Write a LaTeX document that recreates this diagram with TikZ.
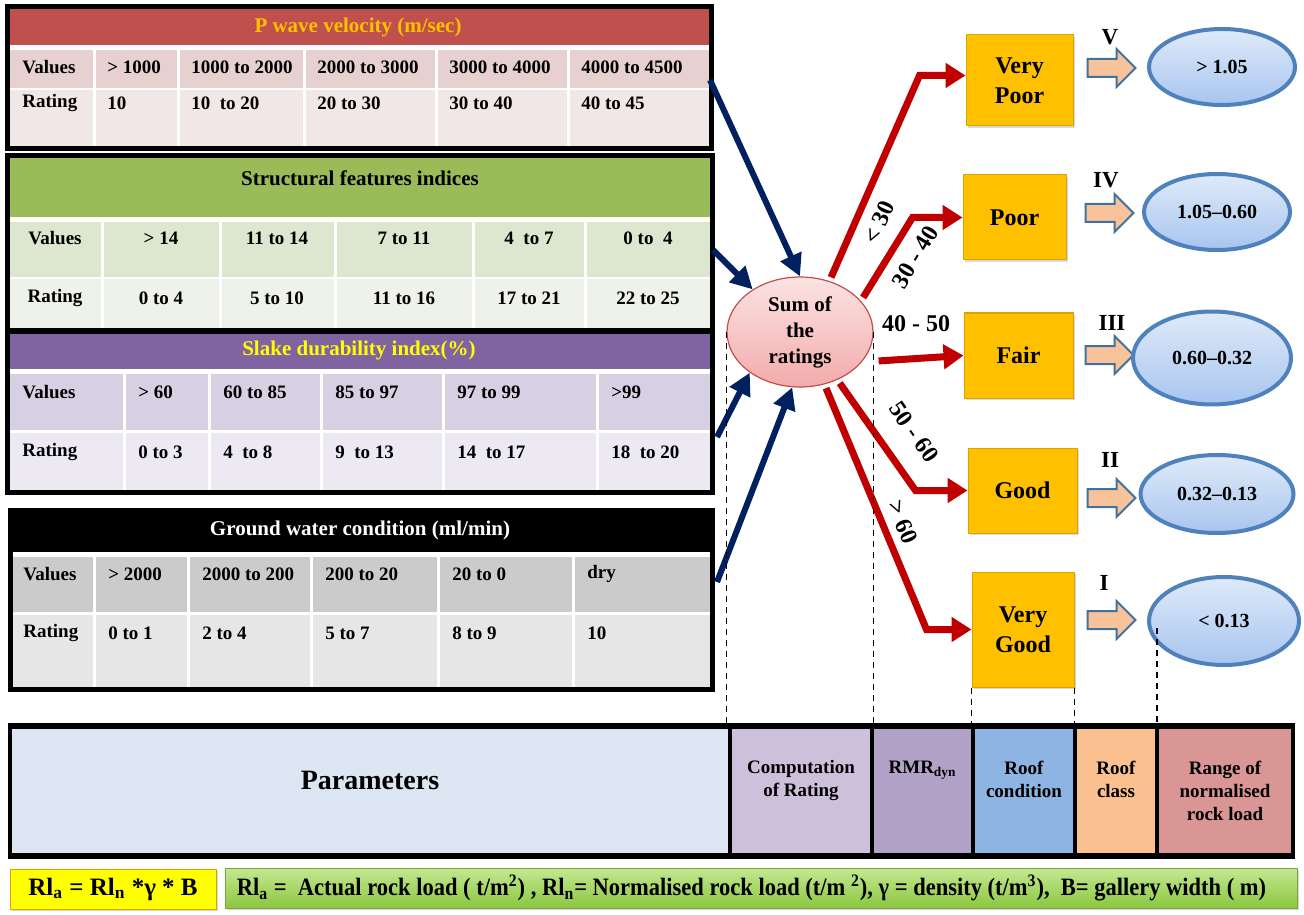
\documentclass[tikz,border=0pt]{standalone}
\usepackage{fontspec}
\setmainfont{Liberation Serif}
\newfontfamily\narrowfont{Liberation Serif}[FakeStretch=0.9]
\usepackage{tikz}
\usetikzlibrary{arrows.meta,shapes.geometric,shapes.arrows,shadows,positioning,calc}
\definecolor{pwhead}{HTML}{C0504D}
\definecolor{pwtext}{HTML}{FFC000}
\definecolor{pwval}{HTML}{E6D0D0}
\definecolor{pwrat}{HTML}{F2E7E7}
\definecolor{sfhead}{HTML}{9BBB59}
\definecolor{sfval}{HTML}{DDE6CE}
\definecolor{sfrat}{HTML}{EEF2E8}
\definecolor{sdhead}{HTML}{8064A2}
\definecolor{sdtext}{HTML}{FFFF00}
\definecolor{sdval}{HTML}{D6D0E2}
\definecolor{sdrat}{HTML}{ECE9F2}
\definecolor{gwval}{HTML}{CBCBCB}
\definecolor{gwrat}{HTML}{E6E6E6}
\definecolor{condfill}{HTML}{FFC000}
\definecolor{condline}{HTML}{D9A300}
\definecolor{loadtop}{HTML}{DFEAF9}
\definecolor{loadbot}{HTML}{A8C5EF}
\definecolor{loadline}{HTML}{4F81BD}
\definecolor{sumtop}{HTML}{FCE3E3}
\definecolor{sumbot}{HTML}{F3ABAB}
\definecolor{sumline}{HTML}{C0504D}
\definecolor{blkfill}{HTML}{F8C39A}
\definecolor{blkline}{HTML}{41719C}
\definecolor{routecol}{HTML}{C00000}
\definecolor{feedcol}{HTML}{002060}
\definecolor{parfill}{HTML}{DCE6F2}
\definecolor{compfill}{HTML}{CCC0DA}
\definecolor{rmrfill}{HTML}{B3A2C7}
\definecolor{condbar}{HTML}{8EB4E3}
\definecolor{clsfill}{HTML}{FAC090}
\definecolor{rngfill}{HTML}{D99694}
\definecolor{fyellow}{HTML}{FFFF00}
\definecolor{gtop}{HTML}{C4E892}
\definecolor{gbot}{HTML}{8CC63F}
\definecolor{gline}{HTML}{77A83A}
\newcommand{\tsize}{\bfseries\fontsize{9.5}{11}\selectfont}

\begin{document}
\begin{tikzpicture}[x=0.5pt,y=-0.5pt]
\tikzstyle{tcell}=[anchor=west,inner sep=0pt,font=\tsize]
\tikzstyle{tcellc}=[inner sep=0pt,font=\tsize]
\tikzstyle{ttitle}=[inner sep=0pt,font=\bfseries\fontsize{10.5}{12}\selectfont]
\tikzstyle{tborder}=[draw=black,line width=2.5pt]
\tikzstyle{colsep}=[white,line width=1.5pt]
\tikzstyle{feed}=[draw=feedcol,line width=3pt,-{Triangle[length=11pt,width=11pt]}]
\tikzstyle{route}=[draw=routecol,line width=3.5pt,shorten <=2pt,-{Triangle[length=10pt,width=12pt]}]
\tikzstyle{guide}=[black,line width=0.8pt,dash pattern=on 3pt off 2.5pt]
\tikzstyle{sumell}=[ellipse,draw=sumline,line width=0.6pt,top color=sumtop,bottom color=sumbot,minimum width=73pt,minimum height=55pt,inner sep=0pt,align=center,font=\bfseries\fontsize{10.5}{13}\selectfont]
\tikzstyle{cond}=[draw=condline,fill=condfill,line width=0.5pt,inner sep=0pt,align=center,font=\bfseries\fontsize{12}{15}\selectfont,drop shadow={opacity=0.3,shadow xshift=1.2pt,shadow yshift=-1.2pt}]
\tikzstyle{loadell}=[ellipse,draw=loadline,line width=2pt,top color=loadtop,bottom color=loadbot,inner sep=0pt,font=\bfseries\fontsize{10}{12}\selectfont]
\tikzstyle{blk}=[single arrow,draw=blkline,fill=blkfill,line width=1pt,minimum height=24pt,minimum width=18pt,single arrow head extend=5pt,inner sep=0pt,inner ysep=4pt]
\tikzstyle{roman}=[inner sep=0pt,font=\bfseries\fontsize{11.5}{13}\selectfont]
\tikzstyle{rlab}=[inner sep=0pt,font=\bfseries\fontsize{12}{14}\selectfont]
\tikzstyle{barcell}=[draw=black,line width=2pt,inner sep=0pt,minimum height=63.75pt]
\tikzstyle{barlabel}=[align=center,inner sep=0pt,anchor=north,font=\bfseries\fontsize{9.5}{11.5}\selectfont]
\tikzstyle{fbox}=[draw=gline,line width=0.5pt,minimum height=20pt,inner sep=0pt,drop shadow={opacity=0.3,shadow xshift=1pt,shadow yshift=-1pt}]
\useasboundingbox (0,0) rectangle (1304,914);

% P wave velocity
\fill[pwhead] (9,9) rectangle (709,45);
\fill[pwval] (9,50) rectangle (709,88);
\fill[pwrat] (9,90) rectangle (709,147);
\node[ttitle,text=pwtext] (pw) at (358,27) {P wave velocity (m/sec)};
\node[tcell] (pwv) at (22,67) {Values};
\node[tcell] (pwr) at (22,103) {Rating};
\foreach \x/\v/\r [count=\i] in {94/{> 1000}/10, 178/{1000 to 2000}/{10~ to 20}, 304/{2000 to 3000}/{20 to 30}, 436/{3000 to 4000}/{30 to 40}, 568/{4000 to 4500}/{40 to 45}}{
  \draw[colsep] (\x,48) -- (\x,147);
  \node[tcell] (pwv\i) at (\x+13,67) {\v};
  \node[tcell] (pwr\i) at (\x+13,103) {\r};
}
\draw[tborder] (7,7) rectangle (711,149);

% structural features
\fill[sfhead] (10,158) rectangle (710,217);
\fill[sfval] (10,222) rectangle (710,277);
\fill[sfrat] (10,279) rectangle (710,328);
\node[ttitle] (sf) at (360,178) {Structural features indices};
\node[tcellc] (sfv) at (55,238) {Values};
\node[tcellc] (sfr) at (55,298) {Rating};
\foreach \x/\c/\v/\r [count=\i] in {102/161/{> 14}/{0 to 4}, 220/277/{11 to 14}/{5 to 10}, 335/404/{7 to 11}/{11 to 16}, 473/529/{4~ to 7}/{17 to 21}, 585/648/{0 to~ 4}/{22 to 25}}{
  \draw[colsep] (\x,220) -- (\x,328);
  \node[tcellc] (sfv\i) at (\c,238) {\v};
  \node[tcellc] (sfr\i) at (\c,298) {\r};
}
\draw[tborder] (7.5,155.5) rectangle (712,330.5);

% slake durability
\fill[sdhead] (10,333) rectangle (710,369);
\fill[sdval] (10,374) rectangle (710,430);
\fill[sdrat] (10,433) rectangle (710,490);
\node[ttitle,text=sdtext] (sd) at (359,350) {Slake durability index(\%)};
\node[tcell] (sdv) at (22,392) {Values};
\node[tcell] (sdr) at (22,452) {Rating};
\foreach \x/\v/\r [count=\i] in {124/{> 60}/{0 to 3}, 209/{60 to 85}/{4~ to 8}, 321/{85 to 97}/{9~ to 13}, 443/{97 to 99}/{14~ to 17}, 597/{>99}/{18~ to 20}}{
  \draw[colsep] (\x,372) -- (\x,490);
  \node[tcell] (sdv\i) at (\x+14,392) {\v};
  \node[tcell] (sdr\i) at (\x+14,452) {\r};
}
\draw[tborder] (7.5,331) rectangle (712,492);

% ground water
\fill[black] (13,512) rectangle (710,552);
\fill[gwval] (13,557) rectangle (710,612);
\fill[gwrat] (13,615) rectangle (710,687);
\node[ttitle,text=white] (gw) at (360,530) {Ground water condition (ml/min)};
\node[tcell] (gwv) at (23,574) {Values};
\node[tcell] (gwr) at (23,633) {Rating};
\foreach \x/\v/\r [count=\i] in {94/{> 2000}/{0 to 1}, 188/{2000 to 200}/{2 to 4}, 311/{200 to 20}/{5 to 7}, 438/{20 to 0}/{8 to 9}, 573/dry/10}{
  \draw[colsep] (\x,555) -- (\x,687);
  \node[tcell] (gwv\i) at (\x+14,574) {\v};
  \node[tcell] (gwr\i) at (\x+14,633) {\r};
}
\draw[tborder] (10.5,510) rectangle (712,689.5);

\node[sumell] (sum) at (800,332) {Sum of\\the\\ratings};

\coordinate (pwout) at (710,80);
\coordinate (sfout) at (713,250);
\coordinate (sdout) at (717,437);
\coordinate (gwout) at (717,582);
\draw[feed] (pwout) -- (sum.north);
\draw[feed] (sfout) -- (sum.138);
\draw[feed] (sdout) -- (sum.219);
\draw[feed] (gwout) -- (sum.262);

% roof condition
\node[cond,minimum width=53.5pt,minimum height=45.5pt] (vpoor) at (1019.5,80.5) {Very\\Poor};
\node[cond,minimum width=51.5pt,minimum height=42.5pt] (poor) at (1014.5,217.5) {Poor};
\node[cond,minimum width=54.5pt,minimum height=42.5pt] (fair) at (1018.5,355.5) {Fair};
\node[cond,minimum width=54.5pt,minimum height=42.5pt] (good) at (1022.5,490.5) {Good};
\node[cond,minimum width=51pt,minimum height=57.5pt] (vgood) at (1023,629.5) {Very\\Good};

\draw[route] (sum.60) -- ([xshift=-23pt,yshift=2.5pt]vpoor.west) -- ([yshift=2.5pt]vpoor.west);
\draw[route] (sum.27) -- ([xshift=-25pt]poor.west) -- (poor.west);
\draw[route] ([xshift=6pt]sum.-25) -- (fair.west);
\draw[route] (sum.-52) -- ([xshift=-26pt]good.west) -- (good.west);
\draw[route] (sum.-65) -- ([xshift=-22.5pt]vgood.west) -- (vgood.west);

\node[rlab,rotate=66] (l30) at (879,222) {< 30};
\node[rlab,rotate=59] (l40) at (915,257) {30 - 40};
\node[rlab] (l50) at (916,324) {40 - 50};
\node[rlab,rotate=-55] (l60) at (914,432) {50 - 60};
\node[rlab,rotate=-67] (l70) at (903,522) {> 60};

% roof class and rock load
\node[blk] (blk5) at (1107,68) {};
\node[blk] (blk4) at (1105,213) {};
\node[blk] (blk3) at (1105,355) {};
\node[blk] (blk2) at (1107,498) {};
\node[blk] (blk1) at (1107,620) {};
\node[roman] (rn5) at (1110,37) {V};
\node[roman] (rn4) at (1106,180) {IV};
\node[roman] (rn3) at (1112,323) {III};
\node[roman] (rn2) at (1110,460) {II};
\node[roman] (rn1) at (1104,583) {I};

\node[loadell,minimum width=73pt,minimum height=38pt] (load5) at (1222,67) {> 1.05};
\node[loadell,minimum width=73pt,minimum height=38pt] (load4) at (1217,212) {1.05--0.60};
\node[loadell,minimum width=79pt,minimum height=46.5pt] (load3) at (1212,358) {0.60--0.32};
\node[loadell,minimum width=76.5pt,minimum height=39pt] (load2) at (1217,494) {0.32--0.13};
\node[loadell,minimum width=75pt,minimum height=44pt] (load1) at (1224,621) {< 0.13};

% bottom bar
\node[barcell,fill=parfill,minimum width=360pt] (par) at (370,791) {};
\node[barcell,fill=compfill,minimum width=71pt] (comp) at (801,791) {};
\node[barcell,fill=rmrfill,minimum width=50.5pt] (rmr) at (922.5,791) {};
\node[barcell,fill=condbar,minimum width=51pt] (cond) at (1024,791) {};
\node[barcell,fill=clsfill,minimum width=41pt] (cls) at (1116,791) {};
\node[barcell,fill=rngfill,minimum width=68pt] (rng) at (1225,791) {};
\draw[line width=2.5pt] (par.north west) -- (rng.north east);
\draw[line width=2.5pt] (par.south west) -- (rng.south east);
\node[font=\bfseries\fontsize{14}{16}\selectfont,inner sep=0pt] (part) at (370,780) {Parameters};
\node[barlabel,below=17.5pt of comp.north] (compt) {Computation\\of Rating};
\node[barlabel,below=17.5pt of rmr.north] (rmrt) {RMR\textsubscript{dyn}};
\node[barlabel,below=17.5pt of cond.north] (condt) {Roof\\condition};
\node[barlabel,below=17.5pt of cls.north] (clst) {Roof\\class};
\node[barlabel,below=17.5pt of rng.north] (rngt) {Range of\\normalised\\rock load};

\draw[guide] (sum.west) -- (sum.west |- comp.north);
\draw[guide] (sum.east) -- (sum.east |- rmr.north);
\draw[guide] (vgood.south west) -- (vgood.south west |- cond.north);
\draw[guide] (vgood.south east) -- (vgood.south east |- cls.north);
\draw[guide] ([xshift=5pt,yshift=-3.5pt]load1.west) -- ([xshift=5pt]load1.west |- rng.north);

% formula
\node[fbox,fill=fyellow,draw=condline,minimum width=103pt] (rla) at (113,889) {};
\node[inner sep=0pt,font=\bfseries\fontsize{12.5}{14}\selectfont] (rlat) at (rla) {Rl\textsubscript{a} = Rl\textsubscript{n} *γ * B};
\node[fbox,top color=gtop,bottom color=gbot,minimum width=536pt] (legend) at (761,888) {};
\node[anchor=west,inner sep=0pt,font=\narrowfont\bfseries\fontsize{12.5}{14}\selectfont] (legendt) at ([xshift=6pt]legend.west) {Rl\textsubscript{a} =~ Actual rock load ( t/m\textsuperscript{2}) , Rl\textsubscript{n}= Normalised rock load (t/m \textsuperscript{2}), γ = density (t/m\textsuperscript{3}),~ B= gallery width ( m)};
\end{tikzpicture}
\end{document}
